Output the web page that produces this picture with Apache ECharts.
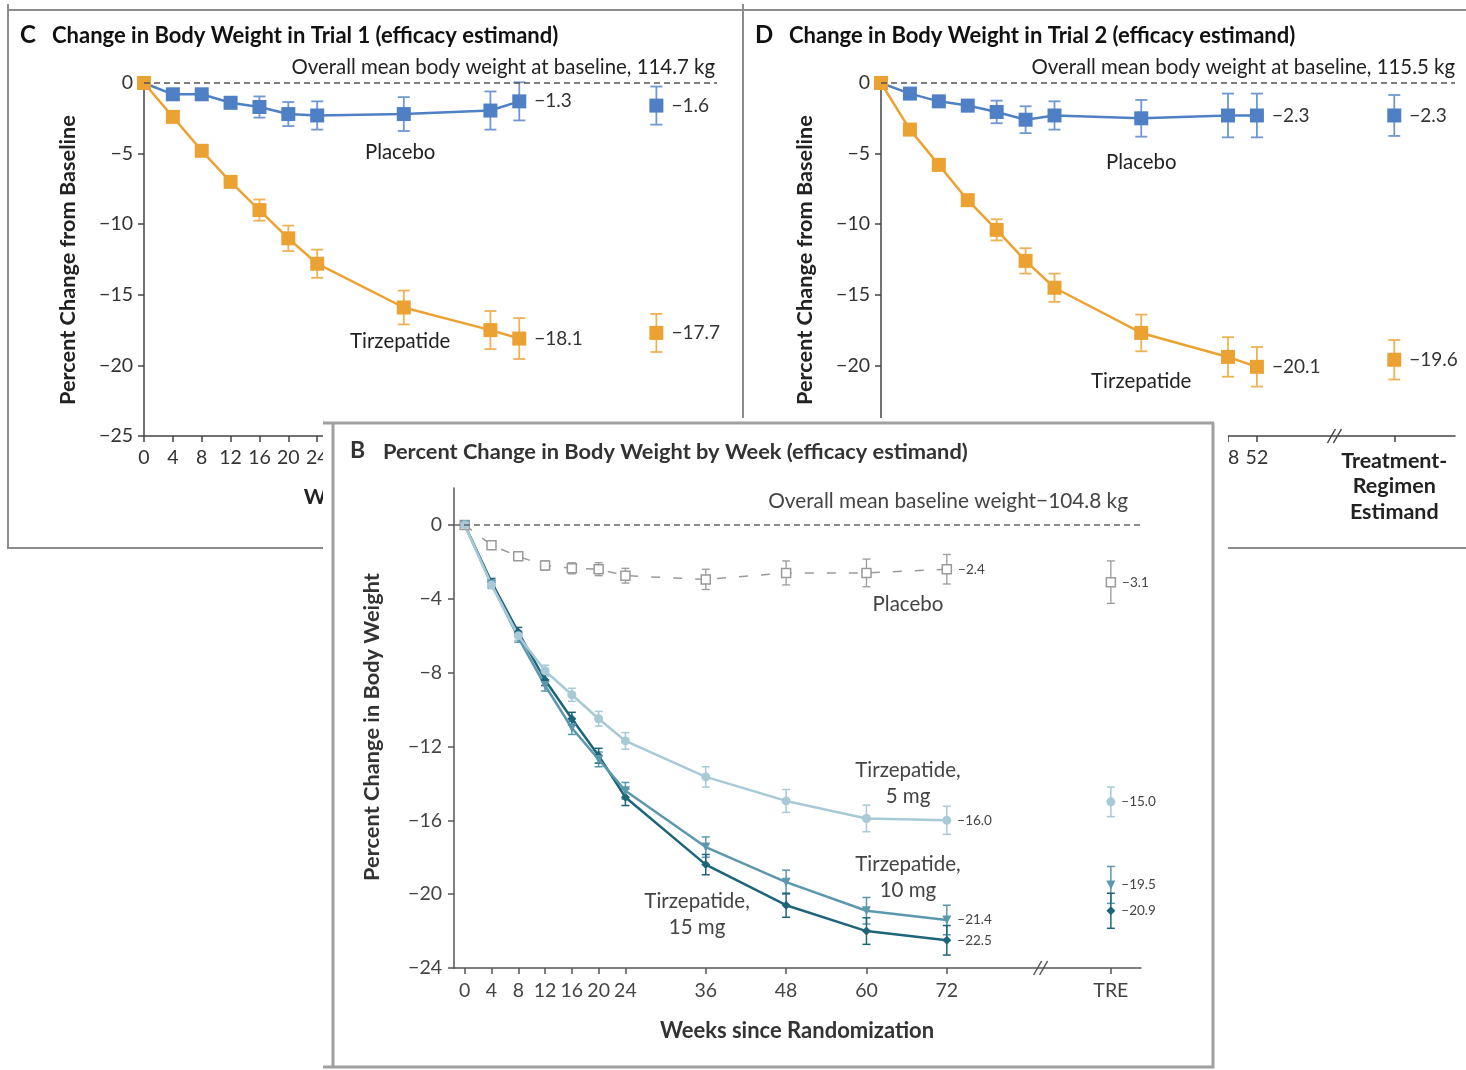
<!DOCTYPE html>
<html><head><meta charset="utf-8">
<script src="https://cdn.jsdelivr.net/npm/echarts@6/dist/echarts.min.js"></script>
<style>
html,body{margin:0;padding:0;background:#fff;width:1466px;height:1070px;overflow:hidden;}
#cd{position:absolute;left:0;top:0;width:1466px;height:1070px;}
#b{position:absolute;left:323px;top:418px;width:905px;height:652px;background:#fff;}
</style></head><body>
<div id="cd"></div><div id="b"></div>
<script>
const FONT = 'Lato';
// ---------- Panels C and D ----------
const weeksCD = [0, 4, 8, 12, 16, 20, 24, 36, 48, 52];
const TRE_CD = 71;
const c_placebo    = [0, -0.8, -0.8, -1.4, -1.7, -2.2, -2.3, -2.2, -1.95, -1.3];
const c_placeboErr = [0, 0.3, 0.3, 0.4, 0.75, 0.85, 1.0, 1.2, 1.35, 1.35];
const c_tirz       = [0, -2.4, -4.8, -7.0, -9.0, -11.0, -12.8, -15.9, -17.5, -18.1];
const c_tirzErr    = [0, 0.2, 0.3, 0.3, 0.75, 0.9, 1.0, 1.2, 1.35, 1.45];
const c_tre        = [-1.6, -17.7];   // placebo, tirzepatide
const c_treErr     = [1.35, 1.35];
const d_placebo    = [0, -0.75, -1.3, -1.6, -2.05, -2.6, -2.3, -2.5, -2.3, -2.3];
const d_placeboErr = [0, 0.25, 0.3, 0.4, 0.8, 0.95, 1.0, 1.3, 1.55, 1.55];
const d_tirz       = [0, -3.3, -5.8, -8.3, -10.4, -12.6, -14.5, -17.7, -19.4, -20.1];
const d_tirzErr    = [0, 0.2, 0.3, 0.4, 0.75, 0.9, 1.0, 1.3, 1.4, 1.4];
const d_tre        = [-2.3, -19.6];
const d_treErr     = [1.45, 1.4];
// ---------- Panel B ----------
const weeksB = [0, 4, 8, 12, 16, 20, 24, 36, 48, 60, 72];
const TRE_B = 96.5;
const b_placebo    = [0, -1.1, -1.7, -2.2, -2.35, -2.4, -2.75, -2.95, -2.6, -2.6, -2.4];
const b_placeboErr = [0, 0.15, 0.2, 0.25, 0.3, 0.35, 0.4, 0.55, 0.65, 0.75, 0.8];
const b_5mg        = [0, -3.25, -6.0, -7.9, -9.2, -10.5, -11.7, -13.65, -14.95, -15.9, -16.0];
const b_5mgErr     = [0, 0.2, 0.25, 0.3, 0.35, 0.4, 0.45, 0.55, 0.62, 0.72, 0.76];
const b_10mg       = [0, -3.2, -6.1, -8.7, -11.0, -12.7, -14.4, -17.45, -19.35, -20.9, -21.4];
const b_10mgErr    = [0, 0.2, 0.25, 0.3, 0.35, 0.4, 0.45, 0.55, 0.65, 0.72, 0.8];
const b_15mg       = [0, -3.1, -5.8, -8.4, -10.5, -12.5, -14.75, -18.4, -20.6, -22.0, -22.5];
const b_15mgErr    = [0, 0.2, 0.25, 0.3, 0.35, 0.4, 0.45, 0.55, 0.65, 0.72, 0.8];
const b_tre        = [-3.1, -15.0, -19.5, -20.9];   // placebo, 5 mg, 10 mg, 15 mg
const b_treErr     = [1.15, 0.8, 1.0, 0.95];
const yTicksB = [0, -4, -8, -12, -16, -20, -24];

const fmt = v => (v < 0 ? '\u2212' : '') + Math.abs(v).toFixed(1);
const fmtInt = v => (v < 0 ? '\u2212' : '') + Math.abs(v);

function errBars(gi, xs, ys, es, color, cap, lw) {
  const data = [];
  xs.forEach((x, i) => { if (es[i] > 0) data.push([x, ys[i], es[i]]); });
  return {
    type: 'custom', xAxisIndex: gi, yAxisIndex: gi, z: 1, silent: true, animation: false,
    data, encode: { x: 0, y: 1 },
    renderItem(params, api) {
      const x = api.value(0), y = api.value(1), e = api.value(2);
      const t = api.coord([x, y + e]), b = api.coord([x, y - e]);
      const st = { stroke: color, lineWidth: lw };
      return { type: 'group', children: [
        { type: 'line', shape: { x1: t[0], y1: t[1], x2: b[0], y2: b[1] }, style: st },
        { type: 'line', shape: { x1: t[0] - cap, y1: t[1], x2: t[0] + cap, y2: t[1] }, style: st },
        { type: 'line', shape: { x1: b[0] - cap, y1: b[1], x2: b[0] + cap, y2: b[1] }, style: st }
      ] };
    }
  };
}
function lineS(gi, xs, ys, color, symbol, size, lab, extra) {
  const last = xs.length - 1;
  return Object.assign({
    type: 'line', xAxisIndex: gi, yAxisIndex: gi, animation: false, z: 3,
    data: xs.map((x, i) => [x, ys[i]]),
    symbol, symbolSize: size, showAllSymbol: true,
    lineStyle: { color, width: 2.5 }, itemStyle: { color, opacity: 1 },
    label: Object.assign({ show: true, position: 'right', distance: 7, color: '#333',
      fontFamily: FONT, formatter: p => p.dataIndex === last ? fmt(p.value[1]) : '' }, lab || {})
  }, extra || {});
}
function pointS(gi, x, y, color, symbol, size, lab, extra) {
  return Object.assign({
    type: 'scatter', xAxisIndex: gi, yAxisIndex: gi, animation: false, z: 3,
    data: [[x, y]], symbol, symbolSize: size, itemStyle: { color, opacity: 1 },
    label: Object.assign({ show: true, position: 'right', distance: 7, color: '#333',
      fontFamily: FONT, formatter: p => fmt(p.value[1]) }, lab || {})
  }, extra || {});
}

// ================= C & D chart =================
const BLUE = '#4f80c6', BLUE_E = '#6f98d2', ORANGE = '#eca233', ORANGE_E = '#eeb256';
const cd = echarts.init(document.getElementById('cd'), null, { renderer: 'canvas' });
const tickCD = weeksCD.concat([TRE_CD]);
function xAxisCD(gi) {
  return {
    type: 'value', gridIndex: gi, min: 0, max: 79.4,
    splitLine: { show: false },
    axisLine: { onZero: false, lineStyle: { color: '#444', width: 1.5 } },
    axisTick: { customValues: tickCD, length: 6, lineStyle: { color: '#444', width: 1.5 } },
    axisLabel: { customValues: tickCD, margin: 12, fontSize: 19.5, color: '#333', fontFamily: FONT,
      formatter: v => v === TRE_CD ? '{b|Treatment-}\n{b|Regimen}\n{b|Estimand}' : String(v),
      rich: { b: { fontWeight: 'bold', fontSize: 21.5, lineHeight: 25.5, fontFamily: FONT, color: '#222' } } }
  };
}
function yAxisCD(gi) {
  return {
    type: 'value', gridIndex: gi, min: -25, max: 0, interval: 5,
    splitLine: { show: false },
    axisLine: { show: true, onZero: false, lineStyle: { color: '#444', width: 1.5 } },
    axisTick: { show: true, length: 6, lineStyle: { color: '#444', width: 1.5 } },
    axisLabel: { margin: 11, fontSize: 19.5, color: '#333', fontFamily: FONT, formatter: fmtInt }
  };
}
const zeroLine = () => ({ silent: true, symbol: 'none', label: { show: false },
  lineStyle: { type: [6, 4], color: '#555', width: 1.5 }, data: [{ yAxis: 0 }] });
const labCD = { fontSize: 19, distance: 8 };
function panelSeries(gi, pl, plE, tz, tzE, tre, treE) {
  return [
    errBars(gi, weeksCD, pl, plE, BLUE_E, 6, 1.8),
    errBars(gi, weeksCD, tz, tzE, ORANGE_E, 6, 1.8),
    errBars(gi, [TRE_CD], [tre[0]], [treE[0]], BLUE_E, 6, 1.8),
    errBars(gi, [TRE_CD], [tre[1]], [treE[1]], ORANGE_E, 6, 1.8),
    lineS(gi, weeksCD, pl, BLUE, 'rect', 14, labCD, { markLine: zeroLine() }),
    lineS(gi, weeksCD, tz, ORANGE, 'rect', 14, labCD),
    pointS(gi, TRE_CD, tre[0], BLUE, 'rect', 14, labCD),
    pointS(gi, TRE_CD, tre[1], ORANGE, 'rect', 14, labCD)
  ];
}
cd.setOption({
  animation: false,
  grid: [{ left: 144, top: 83, width: 573, height: 353 }, { left: 881, top: 83, width: 574, height: 353 }],
  xAxis: [xAxisCD(0), xAxisCD(1)],
  yAxis: [yAxisCD(0), yAxisCD(1)],
  series: panelSeries(0, c_placebo, c_placeboErr, c_tirz, c_tirzErr, c_tre, c_treErr)
    .concat(panelSeries(1, d_placebo, d_placeboErr, d_tirz, d_tirzErr, d_tre, d_treErr))
});

function txt(x, y, text, font, color, align, valign, extra) {
  return Object.assign({ type: 'text', x, y, silent: true, style: { text, x: 0, y: 0, font, fill: color || '#222',
    align: align || 'left', verticalAlign: valign || 'middle', textAlign: align || 'left', textVerticalAlign: valign || 'middle' } }, extra || {});
}
function ln(x1, y1, x2, y2, color, w) {
  return { type: 'line', silent: true, shape: { x1, y1, x2, y2 }, style: { stroke: color, lineWidth: w } };
}
function brk(px, py, color) {
  return [ln(px - 9, py + 7, px - 1, py - 7, color, 1.5), ln(px - 3, py + 7, px + 5, py - 7, color, 1.5)];
}
const g = [];
// frames
g.push(ln(8, 10, 1466, 10, '#8c8c8c', 2));
g.push(ln(8, 4, 8, 549, '#8c8c8c', 2));
g.push(ln(743, 4, 743, 549, '#8c8c8c', 2));
g.push(ln(8, 548, 1466, 548, '#8c8c8c', 2));
// titles
g.push(txt(20, 35, 'C', 'bold 24px ' + FONT, '#111'));
g.push(txt(52, 36, 'Change in Body Weight in Trial 1 (efficacy estimand)', 'bold 22px ' + FONT, '#111'));
g.push(txt(755, 35, 'D', 'bold 24px ' + FONT, '#111'));
g.push(txt(789, 36, 'Change in Body Weight in Trial 2 (efficacy estimand)', 'bold 22px ' + FONT, '#111'));
g.push(txt(715, 67, 'Overall mean body weight at baseline, 114.7 kg', '20.4px ' + FONT, '#222', 'right'));
g.push(txt(1455, 67, 'Overall mean body weight at baseline, 115.5 kg', '20.4px ' + FONT, '#222', 'right'));
g.push(txt(68, 260, 'Percent Change from Baseline', 'bold 21.7px ' + FONT, '#222', 'center', 'middle', { rotation: Math.PI / 2 }));
g.push(txt(805, 260, 'Percent Change from Baseline', 'bold 21.7px ' + FONT, '#222', 'center', 'middle', { rotation: Math.PI / 2 }));
// annotations in data coords
const annCD = [
  [0, 35.5, -4.9, 'Placebo'], [0, 35.5, -18.3, 'Tirzepatide'],
  [1, 36, -5.6, 'Placebo'], [1, 36, -21.1, 'Tirzepatide']
];
annCD.forEach(a => {
  const p = cd.convertToPixel({ gridIndex: a[0] }, [a[1], a[2]]);
  g.push(txt(p[0], p[1], a[3], '20.4px ' + FONT, '#222', 'center'));
});
[0, 1].forEach(gi => {
  const p = cd.convertToPixel({ gridIndex: gi }, [63, -25]);
  brk(p[0], p[1], '#444').forEach(e => g.push(e));
  const q = cd.convertToPixel({ gridIndex: gi }, [26, -25]);
  g.push(txt(q[0], p[1] + 61, 'Week', 'bold 21.5px ' + FONT, '#222', 'center'));
});
cd.setOption({ graphic: { elements: g } });

// ================= B chart =================
const C5 = '#a8cad6', C10 = '#5b98ad', C15 = '#1f6579', CPL = '#9a9a9a';
const bc = echarts.init(document.getElementById('b'), null, { renderer: 'canvas' });
const tickB = weeksB.concat([TRE_B]);
const labB = { fontSize: 13.5, color: '#444', distance: 6 };
bc.setOption({
  animation: false,
  grid: { left: 131, top: 70, width: 687, height: 480 },
  xAxis: {
    type: 'value', min: -1.6, max: 101, splitLine: { show: false },
    axisLine: { onZero: false, lineStyle: { color: '#555', width: 1.5 } },
    axisTick: { customValues: tickB, length: 6, lineStyle: { color: '#555', width: 1.5 } },
    axisLabel: { customValues: tickB, margin: 13, fontSize: 19.5, color: '#444', fontFamily: FONT,
      formatter: v => v === TRE_B ? 'TRE' : String(v) }
  },
  yAxis: {
    type: 'value', min: -24, max: 2, splitLine: { show: false },
    axisLine: { show: true, onZero: false, lineStyle: { color: '#555', width: 1.5 } },
    axisTick: { show: true, customValues: yTicksB, length: 6, lineStyle: { color: '#555', width: 1.5 } },
    axisLabel: { customValues: yTicksB, margin: 12, fontSize: 19.5, color: '#444', fontFamily: FONT, formatter: fmtInt }
  },
  series: [
    errBars(0, weeksB, b_placebo, b_placeboErr, CPL, 4, 1.3),
    errBars(0, weeksB, b_5mg, b_5mgErr, C5, 4, 1.5),
    errBars(0, weeksB, b_10mg, b_10mgErr, C10, 4, 1.5),
    errBars(0, weeksB, b_15mg, b_15mgErr, C15, 4, 1.5),
    errBars(0, [TRE_B], [b_tre[0]], [b_treErr[0]], CPL, 4, 1.3),
    errBars(0, [TRE_B], [b_tre[1]], [b_treErr[1]], C5, 4, 1.5),
    errBars(0, [TRE_B], [b_tre[2]], [b_treErr[2]], C10, 4, 1.5),
    errBars(0, [TRE_B], [b_tre[3]], [b_treErr[3]], C15, 4, 1.5),
    lineS(0, weeksB, b_placebo, CPL, 'rect', 9, labB, {
      lineStyle: { color: CPL, width: 1.5, type: [9, 13] },
      itemStyle: { color: '#fff', borderColor: CPL, borderWidth: 1.5, opacity: 1 },
      markLine: { silent: true, symbol: 'none', label: { show: false },
        lineStyle: { type: [6, 4], color: '#666', width: 1.5 }, data: [{ yAxis: 0 }] } }),
    lineS(0, weeksB, b_15mg, C15, 'diamond', 9, labB),
    lineS(0, weeksB, b_10mg, C10, 'triangle', 9, labB, { symbolRotate: 180 }),
    lineS(0, weeksB, b_5mg, C5, 'circle', 9, labB),
    pointS(0, TRE_B, b_tre[0], '#fff', 'rect', 9, labB, { itemStyle: { color: '#fff', borderColor: CPL, borderWidth: 1.5, opacity: 1 } }),
    pointS(0, TRE_B, b_tre[1], C5, 'circle', 9, labB),
    pointS(0, TRE_B, b_tre[2], C10, 'triangle', 9, labB, { symbolRotate: 180 }),
    pointS(0, TRE_B, b_tre[3], C15, 'diamond', 9, labB)
  ]
});
const gb = [];
gb.push(ln(0, 5, 891, 5, '#a0a0a0', 3));
gb.push(ln(10, 5, 10, 650, '#a0a0a0', 3));
gb.push(ln(890, 5, 890, 650, '#a0a0a0', 3));
gb.push(ln(0, 649, 891, 649, '#a0a0a0', 3));
gb.push(txt(27, 33, 'B', 'bold 23px ' + FONT, '#333'));
gb.push(txt(60, 34, 'Percent Change in Body Weight by Week (efficacy estimand)', 'bold 21.8px ' + FONT, '#333'));
gb.push(txt(805, 83, 'Overall mean baseline weight\u2212104.8 kg', '20.8px ' + FONT, '#444', 'right'));
gb.push(txt(49, 309, 'Percent Change in Body Weight', 'bold 21.8px ' + FONT, '#333', 'center', 'middle', { rotation: Math.PI / 2 }));
gb.push(txt(474, 613, 'Weeks since Randomization', 'bold 22px ' + FONT, '#333', 'center'));
const annB = [
  [66.2, -4.33, 'Placebo'], [66.2, -14.0, 'Tirzepatide,\n5 mg'],
  [66.2, -19.1, 'Tirzepatide,\n10 mg'], [34.7, -21.1, 'Tirzepatide,\n15 mg']
];
annB.forEach(a => {
  const p = bc.convertToPixel({ gridIndex: 0 }, [a[0], a[1]]);
  gb.push({ type: 'text', x: p[0], y: p[1], silent: true, style: { text: a[2], x: 0, y: 0, font: '20.5px ' + FONT,
    fill: '#444', lineHeight: 26, align: 'center', verticalAlign: 'middle', textAlign: 'center', textVerticalAlign: 'middle' } });
});
const pb = bc.convertToPixel({ gridIndex: 0 }, [86.3, -24]);
brk(pb[0], pb[1], '#555').forEach(e => gb.push(e));
bc.setOption({ graphic: { elements: gb } });
</script>
</body></html>
